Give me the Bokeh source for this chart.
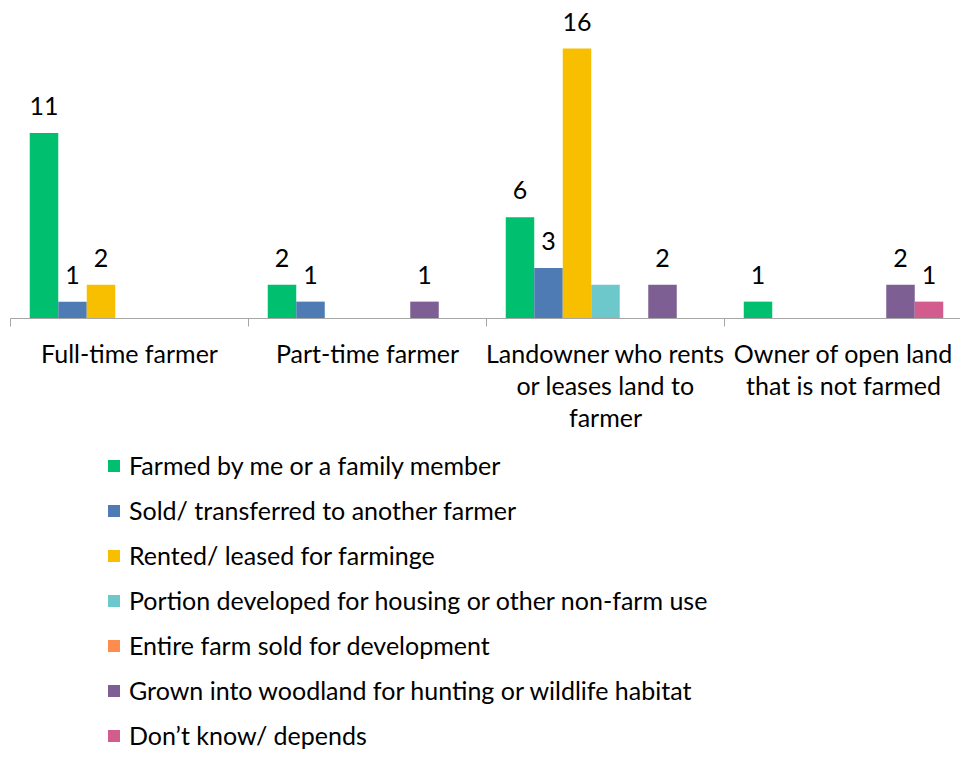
from bokeh.plotting import figure
from bokeh.models import ColumnDataSource, Range1d, Legend, LegendItem
from bokeh.core.properties import value
from bokeh.embed import file_html
from bokeh.resources import INLINE

categories = ["Full-time farmer", "Part-time farmer",
              "Landowner who rents\nor leases land to\nfarmer",
              "Owner of open land\nthat is not farmed"]
series = ["Farmed by me or a family member",
          "Sold/ transferred to another farmer",
          "Rented/ leased for farminge",
          "Portion developed for housing or other non-farm use",
          "Entire farm sold for development",
          "Grown into woodland for hunting or wildlife habitat",
          "Don\u2019t know/ depends"]
colors = ["#00BF6F", "#4F7BB4", "#F8BF00", "#6DC8CC", "#FF8C4F", "#7E5F93", "#D35C8E"]
values = {
    series[0]: [11, 2, 6, 1],
    series[1]: [1, 1, 3, 0],
    series[2]: [2, 0, 16, 0],
    series[3]: [0, 0, 2, 0],
    series[4]: [0, 0, 0, 0],
    series[5]: [0, 1, 2, 2],
    series[6]: [0, 0, 0, 1],
}
# data labels not shown in the original chart
hidden_labels = [(2, series[3])]

FONT = "Lato"
FS = "25px"
W, H = 960, 750
PX_PER_X = 238.0
PX_PER_Y = 16.875
X0_PX = 10
Y0_PX = 318
BAR_W = 28.5 / PX_PER_X

x_start = -X0_PX / PX_PER_X
y_end = Y0_PX / PX_PER_Y
y_start = -(H - Y0_PX) / PX_PER_Y

p = figure(width=W, height=H, output_backend="svg", toolbar_location=None,
           x_range=Range1d(x_start, x_start + W / PX_PER_X),
           y_range=Range1d(y_start, y_end),
           min_border=0, outline_line_color=None, background_fill_color="white")
p.axis.visible = False
p.grid.visible = False

n = len(series)
items = []
for j, s in enumerate(series):
    xs = [i + 0.5 + (j - (n - 1) / 2) * BAR_W for i in range(len(categories))]
    src = ColumnDataSource(dict(x=xs, top=values[s]))
    r = p.vbar(x="x", top="top", width=BAR_W, bottom=0, source=src,
               fill_color=colors[j], line_color=None)
    items.append(LegendItem(label=s, renderers=[r]))
    lx, ly, lt = [], [], []
    for i, v in enumerate(values[s]):
        if v > 0 and (i, s) not in hidden_labels:
            lx.append(xs[i]); ly.append(v); lt.append(str(v))
    p.text(x=lx, y=ly, text=lt, text_align="center", text_baseline="alphabetic",
           y_offset=-27, text_font=value(FONT), text_font_size=FS, text_color="black")

# category axis line and ticks
ncat = len(categories)
p.segment(x0=[0], x1=[ncat + 0.2], y0=[0], y1=[0], line_color="#A6A6A6", line_width=1)
tick_len = 8 / PX_PER_Y
p.segment(x0=list(range(ncat)), x1=list(range(ncat)),
          y0=[0] * ncat, y1=[-tick_len] * ncat, line_color="#A6A6A6", line_width=1)

# category labels
cx, ct, coff = [], [], []
for i, c in enumerate(categories):
    for k, line in enumerate(c.split("\n")):
        cx.append(i + 0.5); ct.append(line); coff.append(34 + 32 * k)
csrc = ColumnDataSource(dict(x=cx, y=[0] * len(cx), text=ct, yoff=coff))
p.text(x="x", y="y", text="text", y_offset="yoff", source=csrc, text_align="center",
       text_baseline="alphabetic", text_font=value(FONT), text_font_size=FS, text_color="black")

legend = Legend(items=items, location=(106, -1), orientation="vertical",
                padding=0, margin=0, spacing=13, label_height=32, glyph_height=15, glyph_width=15,
                label_standoff=8, label_text_font=FONT, label_text_font_size=FS,
                label_text_color="black", border_line_color=None, background_fill_alpha=0)
p.add_layout(legend)

open("out.html", "w").write(file_html(p, INLINE))
